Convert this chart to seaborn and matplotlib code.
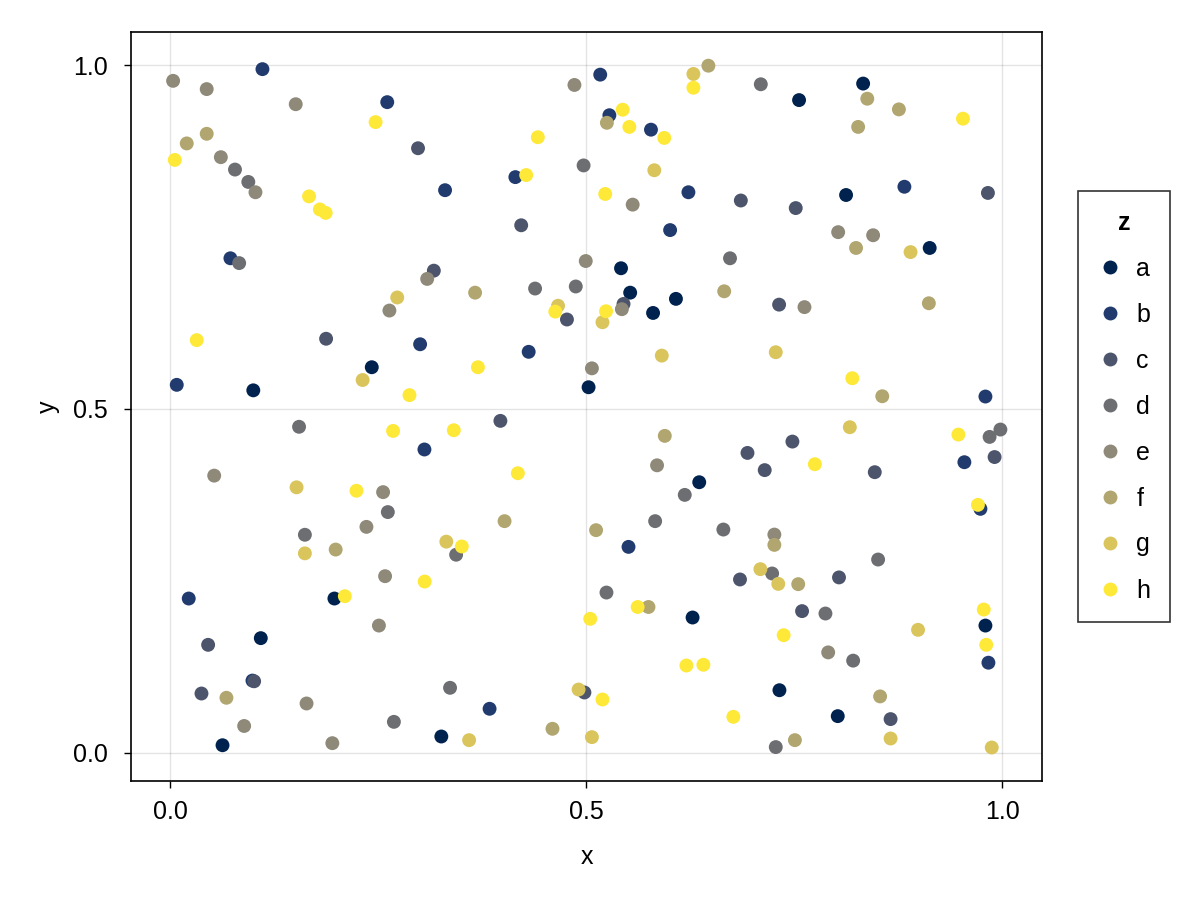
import numpy as np
import pandas as pd
import matplotlib
matplotlib.use("Agg")
import matplotlib.pyplot as plt
import seaborn as sns

# ----------------------------
# data (x, y per group z)
# ----------------------------
groups = ["a", "b", "c", "d", "e", "f", "g", "h"]

x_a = [0.756, 0.833, 0.8125, 0.913, 0.542, 0.100, 0.2424, 0.503, 0.553, 0.5805,
       0.608, 0.636, 0.1975, 0.109, 0.063, 0.326, 0.628, 0.7324, 0.980, 0.8025]
y_a = [0.949, 0.973, 0.811, 0.734, 0.7045, 0.527, 0.5606, 0.5315, 0.669, 0.6395,
       0.660, 0.3934, 0.2243, 0.1667, 0.011, 0.0237, 0.1967, 0.091, 0.185, 0.0533]

x_b = [0.111, 0.0725, 0.261, 0.415, 0.3305, 0.517, 0.528, 0.578, 0.623, 0.601,
       0.8826, 0.008, 0.3005, 0.431, 0.3057, 0.980, 0.9547, 0.974, 0.0224, 0.099,
       0.384, 0.551, 0.9836]
y_b = [0.994, 0.719, 0.946, 0.837, 0.818, 0.986, 0.927, 0.906, 0.815, 0.760,
       0.823, 0.535, 0.594, 0.583, 0.441, 0.518, 0.4225, 0.3547, 0.2243, 0.105,
       0.064, 0.2994, 0.131]

x_c = [0.298, 0.422, 0.317, 0.686, 0.752, 0.1875, 0.477, 0.397, 0.545, 0.732,
       0.748, 0.694, 0.7147, 0.991, 0.847, 0.983, 0.0457, 0.101, 0.0377, 0.498,
       0.685, 0.7596, 0.804, 0.866]
y_c = [0.879, 0.767, 0.701, 0.803, 0.792, 0.602, 0.630, 0.4826, 0.6526, 0.6516,
       0.4525, 0.436, 0.411, 0.430, 0.408, 0.814, 0.157, 0.104, 0.0862, 0.0877,
       0.252, 0.206, 0.255, 0.049]

x_d = [0.078, 0.094, 0.083, 0.497, 0.710, 0.673, 0.155, 0.4387, 0.4876, 0.2617,
       0.6186, 0.583, 0.985, 0.998, 0.162, 0.3438, 0.3365, 0.269, 0.665, 0.7236,
       0.5245, 0.728, 0.851, 0.7877, 0.821]
y_d = [0.848, 0.830, 0.712, 0.854, 0.972, 0.719, 0.474, 0.675, 0.678, 0.350,
       0.375, 0.3368, 0.4593, 0.470, 0.317, 0.288, 0.0945, 0.045, 0.3246, 0.2607,
       0.233, 0.0083, 0.281, 0.2025, 0.134]

x_e = [0.0036, 0.044, 0.151, 0.061, 0.1026, 0.486, 0.309, 0.556, 0.4996, 0.803,
       0.845, 0.053, 0.2636, 0.507, 0.256, 0.236, 0.543, 0.7625, 0.5853, 0.164,
       0.089, 0.195, 0.2584, 0.251, 0.7263, 0.791]
y_e = [0.977, 0.965, 0.943, 0.866, 0.815, 0.971, 0.689, 0.797, 0.715, 0.757,
       0.7525, 0.403, 0.643, 0.559, 0.379, 0.3285, 0.645, 0.648, 0.418, 0.0717,
       0.039, 0.014, 0.2568, 0.185, 0.3173, 0.146]

x_f = [0.044, 0.020, 0.647, 0.525, 0.838, 0.876, 0.827, 0.8245, 0.3666, 0.666,
       0.5946, 0.912, 0.856, 0.402, 0.199, 0.0677, 0.4596, 0.512, 0.7263, 0.755,
       0.575, 0.751, 0.8534]
y_f = [0.900, 0.886, 0.999, 0.916, 0.951, 0.9355, 0.910, 0.734, 0.669, 0.671,
       0.4608, 0.6536, 0.5184, 0.3368, 0.2955, 0.080, 0.0349, 0.3237, 0.3023, 0.2452,
       0.212, 0.0184, 0.082]

x_g = [0.629, 0.582, 0.890, 0.2314, 0.152, 0.273, 0.4663, 0.5197, 0.591, 0.728,
       0.817, 0.162, 0.332, 0.3594, 0.491, 0.507, 0.7095, 0.731, 0.899, 0.866,
       0.9876]
y_g = [0.987, 0.847, 0.728, 0.542, 0.386, 0.662, 0.650, 0.626, 0.5775, 0.5824,
       0.4734, 0.290, 0.307, 0.0184, 0.092, 0.0228, 0.267, 0.2456, 0.1788, 0.0208,
       0.0077]

x_h = [0.0056, 0.167, 0.180, 0.187, 0.247, 0.442, 0.428, 0.629, 0.544, 0.552,
       0.594, 0.523, 0.953, 0.032, 0.224, 0.463, 0.370, 0.2877, 0.268, 0.341,
       0.418, 0.524, 0.775, 0.820, 0.9475, 0.971, 0.210, 0.3506, 0.306, 0.505,
       0.562, 0.7375, 0.6206, 0.641, 0.5197, 0.677, 0.978, 0.981]
y_h = [0.862, 0.809, 0.790, 0.785, 0.917, 0.895, 0.840, 0.967, 0.935, 0.910,
       0.894, 0.8125, 0.922, 0.600, 0.381, 0.6415, 0.5606, 0.520, 0.468, 0.469,
       0.4065, 0.642, 0.4196, 0.5446, 0.4627, 0.3605, 0.2277, 0.300, 0.249, 0.1948,
       0.212, 0.171, 0.1269, 0.128, 0.0775, 0.0523, 0.2083, 0.157]

xs = [x_a, x_b, x_c, x_d, x_e, x_f, x_g, x_h]
ys = [y_a, y_b, y_c, y_d, y_e, y_f, y_g, y_h]

tick_vals = [0.0, 0.5, 1.0]
tick_labels = ["0.0", "0.5", "1.0"]

df = pd.concat(
    [pd.DataFrame({"x": gx, "y": gy, "z": g}) for g, gx, gy in zip(groups, xs, ys)],
    ignore_index=True,
)

# ----------------------------
# style
# ----------------------------
sns.set_style("white")
plt.rcParams["font.family"] = ["Liberation Sans", "DejaVu Sans"]
plt.rcParams["text.color"] = "black"
plt.rcParams["axes.labelcolor"] = "black"
plt.rcParams["xtick.color"] = "black"
plt.rcParams["ytick.color"] = "black"
FS = 18

palette = [matplotlib.colors.to_hex(c) for c in plt.get_cmap("cividis")(np.linspace(0, 1, len(groups)))]

fig = plt.figure(figsize=(12, 9), dpi=100)
ax = fig.add_axes([131 / 1200, 1 - 781 / 900, 911 / 1200, 749 / 900])

sns.scatterplot(data=df, x="x", y="y", hue="z", hue_order=groups, palette=palette,
                s=100, linewidth=0, ax=ax, zorder=3)

ax.set_xlim(-0.047, 1.048)
ax.set_ylim(-0.041, 1.048)
ax.set_xticks(tick_vals)
ax.set_yticks(tick_vals)
ax.set_xticklabels(tick_labels)
ax.set_yticklabels(tick_labels)
ax.grid(True, color="black", alpha=0.11, linewidth=1.0)
ax.set_axisbelow(True)
for sp in ax.spines.values():
    sp.set_color("black")
    sp.set_linewidth(1.2)
ax.tick_params(axis="both", direction="out", length=5, width=1.0, labelsize=FS,
               colors="black", bottom=True, left=True)
ax.tick_params(axis="x", pad=9)
ax.tick_params(axis="y", pad=12)
ax.set_xlabel("x", fontsize=FS, labelpad=15, color="black")
ax.set_ylabel("y", fontsize=FS, labelpad=9, color="black")

leg = ax.legend(loc="center left", bbox_to_anchor=(1.0395, 0.5), borderaxespad=0,
                title="z", title_fontproperties={"weight": "bold", "size": FS},
                fontsize=FS, frameon=True, fancybox=False, edgecolor="black",
                labelspacing=0.88, handlelength=1.0, handletextpad=0.55,
                borderpad=0.78, markerscale=1.0)
leg.get_frame().set_linewidth(1.2)
for t in leg.get_texts():
    t.set_color("black")
leg.get_title().set_color("black")

fig.savefig("out.png", dpi=100)
